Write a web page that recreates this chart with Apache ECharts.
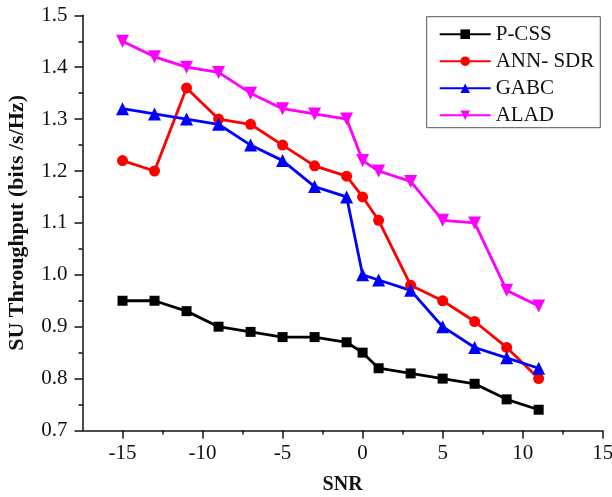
<!DOCTYPE html>
<html><head><meta charset="utf-8">
<script src="https://cdn.jsdelivr.net/npm/echarts@6/dist/echarts.min.js"></script>
<style>html,body{margin:0;padding:0;background:#fff}#c{width:612px;height:497px}</style>
</head><body><div id="c"></div>
<script>
var snr = [-15, -13, -11, -9, -7, -5, -3, -1, 0, 1, 3, 5, 7, 9, 11];
var pcss = [0.95, 0.95, 0.93, 0.90, 0.89, 0.88, 0.88, 0.87, 0.85, 0.82, 0.81, 0.80, 0.79, 0.76, 0.74];
var annSdr = [1.22, 1.20, 1.36, 1.30, 1.29, 1.25, 1.21, 1.19, 1.15, 1.105, 0.98, 0.95, 0.91, 0.86, 0.80];
var gabc = [1.32, 1.31, 1.30, 1.29, 1.25, 1.22, 1.17, 1.15, 1.00, 0.99, 0.97, 0.90, 0.86, 0.84, 0.82];
var alad = [1.45, 1.42, 1.40, 1.39, 1.35, 1.32, 1.31, 1.30, 1.22, 1.20, 1.18, 1.105, 1.10, 0.97, 0.94];
var xMajor = [-15, -10, -5, 0, 5, 10, 15];
var xMinor = [-12.5, -7.5, -2.5, 2.5, 7.5, 12.5];
var names = ['P-CSS', 'ANN- SDR', 'GABC', 'ALAD'];

var font = '"Liberation Serif","Times New Roman",serif';
function pts(ys){ return snr.map(function(x,i){ return [x, ys[i]]; }); }
function mk(name, ys, color, symbol, size, rot){
  return {name:name, type:'line', data:pts(ys), xAxisIndex:0,
    symbol:symbol, symbolSize:size, symbolRotate:rot||0, showSymbol:true,
    lineStyle:{color:color, width:2.8}, itemStyle:{color:color},
    emphasis:{disabled:true}, animation:false, z:3};
}
var chart = echarts.init(document.getElementById('c'), null, {renderer:'canvas'});
chart.setOption({
  backgroundColor:'#fff',
  textStyle:{fontFamily:font},
  grid:{left:82.5, right:9.3, top:15.3, bottom:66.5, containLabel:false, outerBoundsMode:'none'},
  legend:{
    orient:'vertical', left:426.7, top:16.7,
    data:names, itemWidth:51, itemHeight:12, itemGap:6, itemTextGap:4,
    padding:[7,6,2,12], borderColor:'#555', borderWidth:1, backgroundColor:'#fff',
    textStyle:{fontFamily:font, fontSize:21, color:'#111'}
  },
  xAxis:[{
    type:'value', min:-17.5, max:15, position:'bottom',
    name:'SNR', nameLocation:'middle', nameGap:44,
    nameTextStyle:{fontFamily:font, fontSize:20, fontWeight:'bold', color:'#111'},
    axisLine:{onZero:false, lineStyle:{color:'#111', width:1.5}},
    axisTick:{show:true, customValues:xMajor, length:8, lineStyle:{color:'#111', width:1.5}},
    axisLabel:{customValues:xMajor, margin:12, fontFamily:font, fontSize:21, color:'#111'},
    splitLine:{show:false}
  },{
    type:'value', min:-17.5, max:15, position:'bottom',
    axisLine:{show:false},
    axisTick:{show:true, customValues:xMinor, length:4, lineStyle:{color:'#111', width:1.5}},
    axisLabel:{show:false}, splitLine:{show:false}
  }],
  yAxis:{
    type:'value', min:0.7, max:1.5, interval:0.1,
    name:'SU Throughput (bits /s/Hz)', nameLocation:'middle', nameGap:54,
    nameTextStyle:{fontFamily:font, fontSize:22, fontWeight:'bold', color:'#111'},
    axisLine:{show:true, onZero:false, lineStyle:{color:'#111', width:1.5}},
    axisTick:{show:true, length:8, lineStyle:{color:'#111', width:1.5}},
    minorTick:{show:true, splitNumber:2, length:4, lineStyle:{color:'#111', width:1.5}},
    axisLabel:{margin:15, fontFamily:font, fontSize:21, color:'#111', formatter:function(v){return v.toFixed(1);}},
    splitLine:{show:false}
  },
  series:[
    mk(names[0], pcss, '#000000', 'rect', 10),
    mk(names[1], annSdr, '#ff0000', 'circle', 11),
    mk(names[2], gabc, '#0000ff', 'triangle', 13),
    mk(names[3], alad, '#ff00ff', 'triangle', 13, 180)
  ]
});
</script></body></html>
